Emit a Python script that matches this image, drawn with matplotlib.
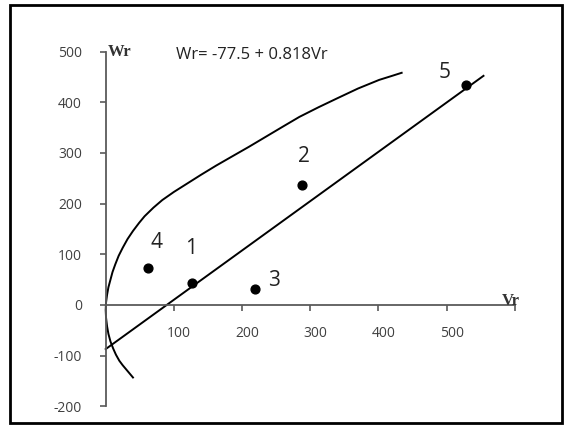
import matplotlib
matplotlib.use("Agg")
import matplotlib.pyplot as plt
import matplotlib.transforms as mtransforms
from matplotlib.patches import Rectangle

# ---- data ----
point_labels = ["1", "2", "3", "4", "5"]
point_vr = [127, 288, 219, 62, 529]
point_wr = [43, 237, 32, 72, 434]

# labels placed near the points (data coords)
label_vr = [125, 291, 247, 75, 497]
label_wr = [112, 292, 49, 124, 458]

# regression line as drawn (end points)
line_vr = [0, 554]
line_wr = [-87, 452]

# boundary curve
curve_vr = [40, 35, 30, 25, 20, 15, 11, 7, 4, 2, 0.5, 0, 0.5, 2, 4, 7, 10, 14,
            19, 25, 32, 40, 49, 57, 70, 83, 100, 120, 140, 162, 184, 210, 235,
            260, 284, 312, 340, 370, 401, 420, 434]
curve_wr = [-143, -135, -127, -119, -110, -98, -86, -72, -57, -42, -25, -10, 5,
            20, 35, 50, 65, 80, 97, 113, 130, 146, 162, 175, 192, 207, 223, 240,
            257, 275, 292, 312, 332, 352, 371, 390, 408, 427, 444, 452, 458]

yticks = [-200, -100, 0, 100, 200, 300, 400, 500]
ytick_labels = ["-200", "-100", "0", "100", "200", "300", "400", "500"]
xticks = [100, 200, 300, 400, 500, 600]
xtick_labels = ["100", "200", "300", "400", "500", ""]

equation = "Wr= -77.5 + 0.818Vr"

# ---- figure ----
fig = plt.figure(figsize=(5.66, 4.26), dpi=100)
fig.patch.set_facecolor("white")
ax = fig.add_axes([0, 0, 1, 1])
ax.set_facecolor("none")
ax.set_xlim(-155, 675)
ax.set_ylim(-238.7, 601.6)

axis_color = "#5a5a5a"
for s in ["top", "right"]:
    ax.spines[s].set_visible(False)
ax.spines["left"].set_position(("data", 0))
ax.spines["bottom"].set_position(("data", 0))
ax.spines["left"].set_bounds(-200, 500)
ax.spines["bottom"].set_bounds(0, 600)
for s in ["left", "bottom"]:
    ax.spines[s].set_color(axis_color)
    ax.spines[s].set_linewidth(1.3)

tick_font = dict(family="Open Sans", size=10)
ax.set_yticks(yticks)
ax.set_yticklabels(ytick_labels, fontdict=tick_font, color="#404040")
ax.set_xticks(xticks)
ax.set_xticklabels(xtick_labels, fontdict=tick_font, color="#404040")
ax.tick_params(axis="y", direction="out", length=4, width=1.2, color=axis_color, pad=13)
ax.tick_params(axis="x", direction="out", length=4, width=1.2, color=axis_color, pad=11)
offset = mtransforms.ScaledTranslation(5 / 100, 0, fig.dpi_scale_trans)
for lab in ax.get_xticklabels():
    lab.set_transform(lab.get_transform() + offset)

# curve and line
ax.plot(curve_vr, curve_wr, color="black", lw=1.4, solid_joinstyle="round")
ax.plot(line_vr, line_wr, color="black", lw=1.4)

# points
ax.scatter(point_vr, point_wr, s=40, color="black", zorder=5)
for t, x, y in zip(point_labels, label_vr, label_wr):
    ax.text(x, y, t, fontsize=15, family="Open Sans", color="#222222",
            ha="center", va="center")

ax.text(103, 493, equation, fontsize=12, family="Open Sans", color="#222222",
        ha="left", va="center")
ax.text(3, 499, "Wr", fontsize=12, family="Liberation Serif", fontweight="bold",
        color="#333333", ha="left", va="center")
ax.text(594, 8, "Vr", fontsize=12, family="Liberation Serif", fontweight="bold",
        color="#333333", ha="center", va="center")

# outer border
fig.patches.append(Rectangle((10 / 566, 3 / 426), 552 / 566, 418 / 426,
                             transform=fig.transFigure, fill=False,
                             edgecolor="black", lw=2.0))

fig.savefig("out.png", dpi=100, facecolor="white")
